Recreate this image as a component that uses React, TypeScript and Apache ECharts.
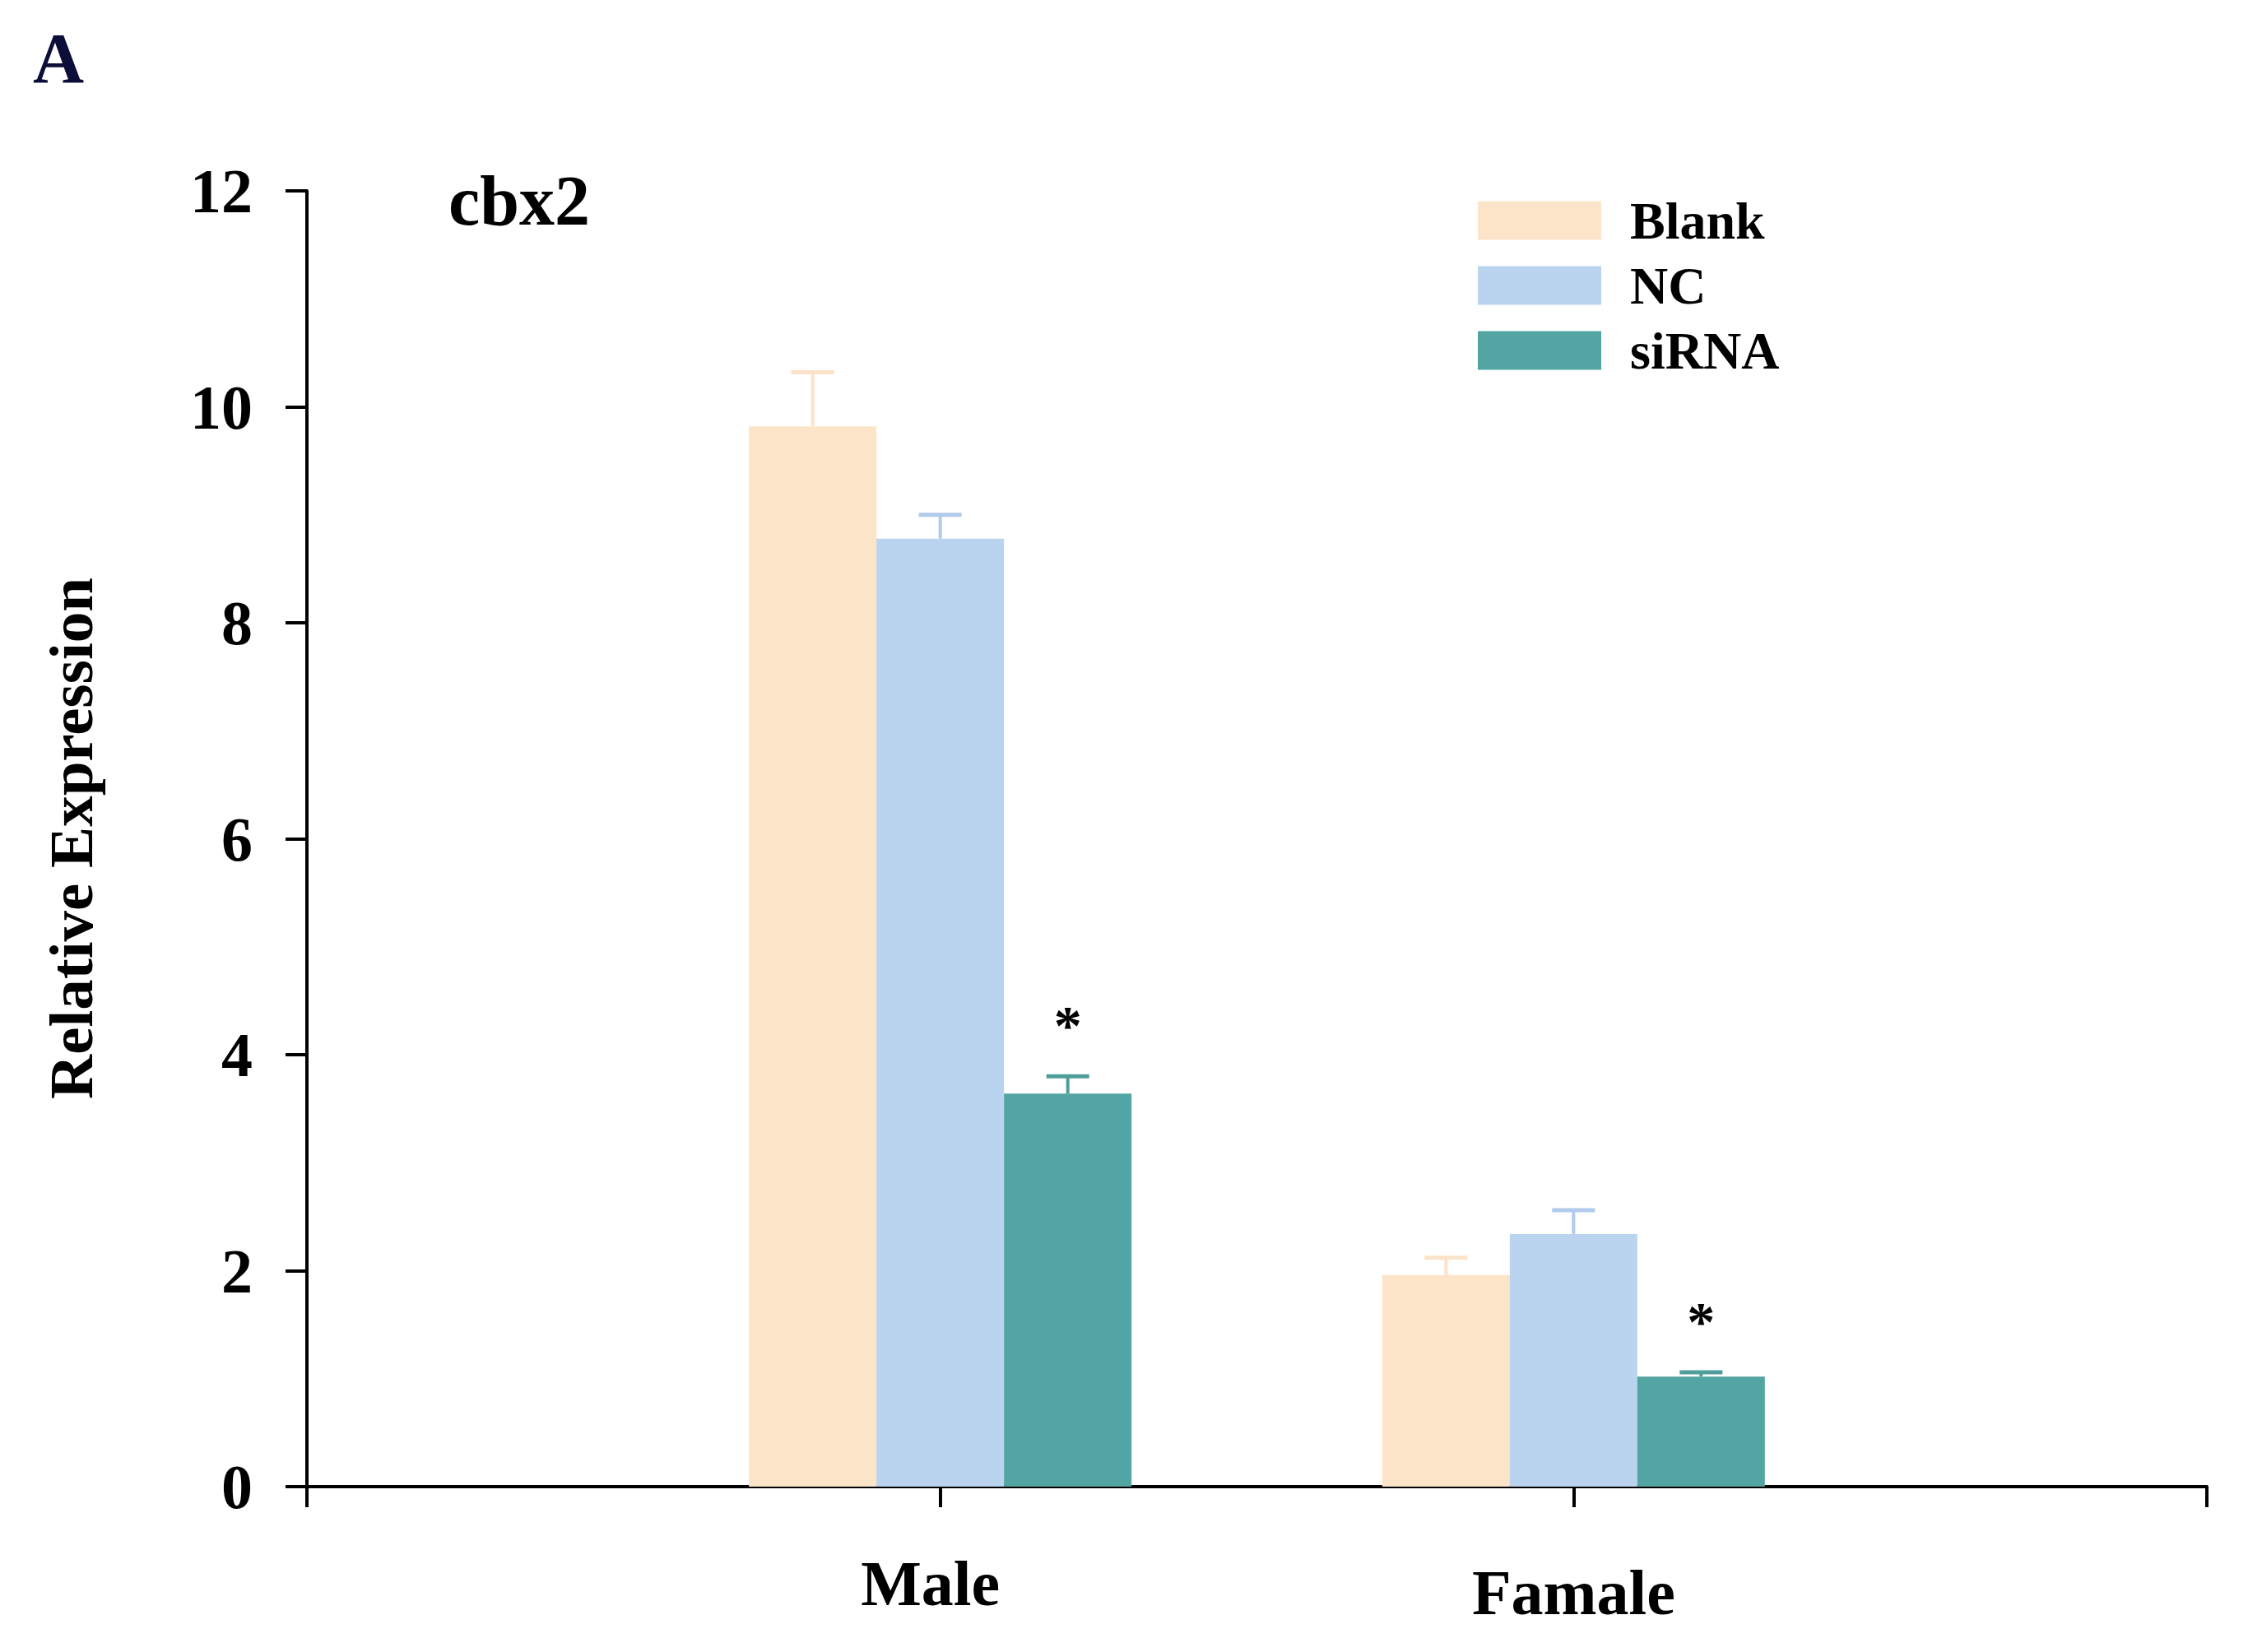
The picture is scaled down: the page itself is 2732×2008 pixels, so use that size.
import React, { useEffect, useRef } from "react";
import * as echarts from "echarts";

const CATEGORIES = ["", "Male", "Famale", ""];
const GROUP_POS = [1, 2];
const SERIES_NAMES = ["Blank", "NC", "siRNA"];
const BLANK = [9.82, 1.96];
const BLANK_ERR = [0.5, 0.16];
const NC = [8.78, 2.34];
const NC_ERR = [0.22, 0.22];
const SIRNA = [3.64, 1.02];
const SIRNA_ERR = [0.16, 0.04];
const SIRNA_SIG = ["*", "*"];
const Y_MIN = 0;
const Y_MAX = 12;
const Y_STEP = 2;

const BAR_COLORS = ["#FCE4C8", "#BAD3EE", "#52A5A2"];
const ERR_COLORS = ["#FBE2C9", "#B2CBEC", "#4F9E9B"];
const FONT = "'Liberation Serif', 'Times New Roman', serif";
const BAR_W = 155;

const VALUES = [BLANK, NC, SIRNA];
const ERRS = [BLANK_ERR, NC_ERR, SIRNA_ERR];
const SIGS = [null, null, SIRNA_SIG];

export default function App() {
  const ref = useRef<HTMLDivElement>(null);
  useEffect(() => {
    document.body.style.margin = "0";
    if (!ref.current) return;
    const chart = echarts.init(ref.current, null, { renderer: "svg" });

    const errItems: any[] = [];
    const errMeta: { k: number; sig: string | null }[] = [];
    VALUES.forEach((vals, k) => {
      vals.forEach((v, i) => {
        errItems.push([GROUP_POS[i], v, ERRS[k][i]]);
        errMeta.push({ k, sig: SIGS[k] ? (SIGS[k] as string[])[i] : null });
      });
    });

    const option: any = {
      animation: false,
      backgroundColor: "#ffffff",
      grid: { left: 373, right: 50, top: 232, bottom: 201, containLabel: false },
      legend: {
        orient: "vertical",
        left: 1796,
        top: 236,
        padding: 0,
        itemWidth: 150,
        itemHeight: 47,
        itemGap: 15,
        icon: "rect",
        data: SERIES_NAMES,
        textStyle: {
          fontFamily: FONT,
          fontWeight: "bold",
          fontSize: 64,
          color: "#000",
          padding: [0, 0, 0, 30],
        },
      },
      xAxis: {
        type: "value",
        min: 0,
        max: CATEGORIES.length - 1,
        interval: 1,
        splitLine: { show: false },
        axisLine: { show: true, lineStyle: { color: "#000", width: 4 } },
        axisTick: { show: true, length: 25, lineStyle: { color: "#000", width: 4 } },
        axisLabel: {
          margin: 78,
          formatter: (v: number) => {
            const name = CATEGORIES[Math.round(v)] || "";
            if (!name) return "";
            return Math.round(v) === 2 ? "{f|" + name + "}" : "{m|" + name + "}";
          },
          rich: {
            m: {
              fontFamily: FONT,
              fontWeight: "bold",
              fontSize: 78,
              lineHeight: 78,
              color: "#000",
              padding: [0, 24, 0, 0],
            },
            f: {
              fontFamily: FONT,
              fontWeight: "bold",
              fontSize: 78,
              lineHeight: 78,
              color: "#000",
              padding: [22, 0, 0, 0],
            },
          },
        },
      },
      yAxis: {
        type: "value",
        min: Y_MIN,
        max: Y_MAX,
        interval: Y_STEP,
        splitLine: { show: false },
        axisLine: { show: true, lineStyle: { color: "#000", width: 4 } },
        axisTick: { show: true, length: 26, lineStyle: { color: "#000", width: 4 } },
        axisLabel: {
          margin: 66,
          fontFamily: FONT,
          fontWeight: "bold",
          fontSize: 76,
          color: "#000",
        },
      },
      series: [
        ...SERIES_NAMES.map((name, k) => ({
          name,
          type: "bar",
          barWidth: BAR_W,
          barGap: "0%",
          itemStyle: { color: BAR_COLORS[k] },
          data: VALUES[k].map((v, i) => [GROUP_POS[i], v]),
          z: 2,
        })),
        {
          type: "custom",
          name: "err",
          z: 5,
          clip: false,
          data: errItems,
          renderItem: (params: any, api: any) => {
            const meta = errMeta[params.dataIndex];
            const x = api.value(0);
            const v = api.value(1);
            const e = api.value(2);
            const base = api.coord([x, v]);
            const top = api.coord([x, v + e]);
            const cx = base[0] + (meta.k - 1) * BAR_W;
            const col = ERR_COLORS[meta.k];
            const children: any[] = [
              {
                type: "line",
                shape: { x1: cx, y1: base[1], x2: cx, y2: top[1] },
                style: { stroke: col, lineWidth: 4 },
              },
              {
                type: "line",
                shape: { x1: cx - 26, y1: top[1], x2: cx + 26, y2: top[1] },
                style: { stroke: col, lineWidth: 5 },
              },
            ];
            if (meta.sig) {
              children.push({
                type: "text",
                style: {
                  text: meta.sig,
                  x: cx,
                  y: top[1] - 62,
                  align: "center",
                  verticalAlign: "middle",
                  fontFamily: FONT,
                  fontWeight: "bold",
                  fontSize: 68,
                  fill: "#000",
                },
              });
            }
            return { type: "group", children };
          },
        },
      ],
      graphic: [
        {
          type: "text",
          x: 71,
          y: 71,
          style: {
            text: "A",
            align: "center",
            verticalAlign: "middle",
            fontFamily: FONT,
            fontWeight: "bold",
            fontSize: 86,
            fill: "#0d0d3a",
          },
        },
        {
          type: "text",
          x: 545,
          y: 244,
          style: {
            text: "cbx2",
            align: "left",
            verticalAlign: "middle",
            fontFamily: FONT,
            fontWeight: "bold",
            fontSize: 86,
            fill: "#000",
          },
        },
        {
          type: "text",
          x: 86,
          y: 1019,
          rotation: Math.PI / 2,
          style: {
            text: "Relative Expression",
            align: "center",
            verticalAlign: "middle",
            fontFamily: FONT,
            fontWeight: "bold",
            fontSize: 75,
            fill: "#000",
          },
        },
      ],
    };
    chart.setOption(option);
    return () => chart.dispose();
  }, []);
  return <div ref={ref} style={{ width: 2732, height: 2008 }} />;
}
